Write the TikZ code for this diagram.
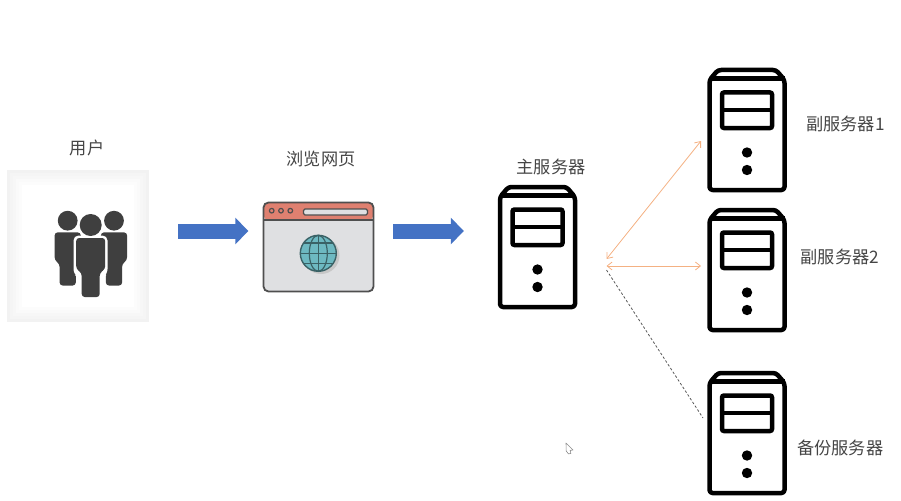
\documentclass[tikz,border=0pt]{standalone}
\usepackage{fontspec}
\newfontfamily\cjk{Noto Sans CJK SC}
\usetikzlibrary{arrows.meta}
\definecolor{flowblue}{HTML}{4472C4}
\definecolor{linkorange}{HTML}{F4B183}
\definecolor{crowdgray}{HTML}{3F3F3F}
\definecolor{textgray}{HTML}{454545}
\definecolor{pagegray}{HTML}{DFE0E2}
\definecolor{barred}{HTML}{DF8070}
\definecolor{framegray}{HTML}{4F4F4F}
\definecolor{globeteal}{HTML}{6DB9C1}
\definecolor{globeline}{HTML}{3A6266}
\tikzset{
  server/.pic={
    \draw[line width=4.5pt,rounded corners=3pt,line join=round]
      (-37.5,60) -- (-37.5,-50) -- (-29,-60) -- (29,-60) -- (37.5,-50) -- (37.5,60) -- cycle;
    \draw[line width=4.5pt] (-37.5,-51.5) -- (37.5,-51.5);
    \draw[line width=4.5pt,rounded corners=2pt] (-25,-37.5) rectangle (25,-2);
    \draw[line width=4.5pt] (-25,-20) -- (25,-20);
    \fill (0,22.5) circle (5.2);
    \fill (0,40) circle (5.2);
  },
  person/.pic={
    \fill[crowdgray] (0,0) circle (11);
    \fill[crowdgray,rounded corners=3pt]
      (-14.5,13) -- (14.5,13) -- (14.5,44) -- (9,48) -- (9,72) -- (-9,72) -- (-9,48) -- (-14.5,44) -- cycle;
  },
}
\begin{document}
\begin{tikzpicture}[
    x=1pt,y=-1pt,
    label/.style={font=\cjk\fontsize{17.2}{19}\selectfont,text=textgray,inner sep=0pt},
    serverbox/.style={rectangle,minimum width=80pt,minimum height=124pt,inner sep=0pt},
    iconbox/.style={rectangle,inner sep=0pt},
    flow/.style={line width=15pt,flowblue,-{Triangle[length=13pt,width=26pt]}},
    link/.style={linkorange,line width=0.8pt,<->,>={Straight Barb[length=5pt,width=8pt]}},
    backup/.style={black!65,line width=0.8pt,dash pattern=on 2.5pt off 2pt}
    ]
    \useasboundingbox (0,0) rectangle (901,500);

    \foreach \inset/\tone in {0/5,3/4,6/3,9/2,12/1,15/0}
      \fill[black!\tone] (7+\inset,170+\inset) rectangle (149-\inset,322-\inset);
    \node[iconbox,minimum width=142pt,minimum height=152pt] (crowd) at (78,246) {};
    \pic[scale=0.9] at (67.7,220.7) {person};
    \pic[scale=0.9] at (114,220.7) {person};
    \fill[white,rounded corners=5pt]
      (73.5,235.5) -- (107.5,235.5) -- (107.5,274) -- (102.5,278) -- (102.5,299) -- (79,299) -- (79,278) -- (73.5,274) -- cycle;
    \fill[white] (90.7,225) circle (13);
    \pic at (90.7,225) {person};
    \node[label] (userlabel) at (87,148) {用户};

    \node[iconbox,minimum width=110pt,minimum height=90pt] (browser) at (318.5,247) {};
    \fill[pagegray,rounded corners=5pt] (263.5,202.5) rectangle (373.5,291.5);
    \fill[barred,rounded corners=5pt] (263.5,220) -- (263.5,202.5) -- (373.5,202.5) -- (373.5,220) -- cycle;
    \draw[framegray,line width=1.8pt,rounded corners=5pt] (263.5,202.5) rectangle (373.5,291.5);
    \draw[framegray,line width=1.6pt] (263.5,220) -- (373.5,220);
    \foreach \dotx in {271.7,281,290.3}
      \draw[framegray,line width=1.2pt] (\dotx,210.7) circle (2.3);
    \draw[framegray,fill=pagegray,line width=1.2pt,rounded corners=1.5pt] (303.5,209) rectangle (367.5,215);
    \fill[black!22] (321,255.5) circle (18.5);
    \draw[globeline,fill=globeteal,line width=1.4pt] (318.3,253.3) circle (18);
    \draw[globeline,line width=1.2pt] (318.3,235.3) -- (318.3,271.3);
    \draw[globeline,line width=1.2pt] (300.3,253.3) -- (336.3,253.3);
    \draw[globeline,line width=1.2pt] (318.3,253.3) ellipse (9 and 18);
    \draw[globeline,line width=1.2pt] (303.5,243) -- (333.1,243);
    \draw[globeline,line width=1.2pt] (303.5,263.6) -- (333.1,263.6);
    \node[label] (browserlabel) at (321,159) {浏览网页};

    \node[serverbox] (main) at (537.5,247) {};
    \pic at (main) {server};
    \node[label] (mainlabel) at (551,167) {主服务器};

    \node[serverbox] (subone) at (747,130) {};
    \pic at (subone) {server};
    \node[label,anchor=west] (subonelabel) at (806,124) {副服务器1};

    \node[serverbox] (subtwo) at (747,270) {};
    \pic at (subtwo) {server};
    \node[label,anchor=west] (subtwolabel) at (800.5,257) {副服务器2};

    \node[serverbox] (spare) at (747,433) {};
    \pic at (spare) {server};
    \node[label,anchor=west] (sparelabel) at (797,448) {备份服务器};

    \coordinate (hubup) at (606.5,259);
    \coordinate (hubmid) at (606.5,266);
    \coordinate (hubdown) at (606.5,270);
    \coordinate (suboneport) at (701,141);
    \coordinate (subtwoport) at (701,266);
    \coordinate (spareport) at (703,418);

    \draw[flow,shorten <=29pt,shorten >=15pt] ([yshift=15pt]crowd.east) -- ([yshift=16pt]browser.west);
    \draw[flow,shorten <=19.5pt,shorten >=33.5pt] ([yshift=16pt]browser.east) -- ([yshift=16pt]main.west);
    \draw[link] (hubup) -- (suboneport);
    \draw[link] (hubmid) -- (subtwoport);
    \draw[backup] (hubdown) -- (spareport);

    \draw[black!45,line width=0.6pt,line join=round,fill=white]
      (566,443) -- (573,450) -- (570.2,450.4) -- (570.8,453.6) -- (568.4,453.8) -- (566.2,451) -- cycle;
  \end{tikzpicture}
\end{document}
